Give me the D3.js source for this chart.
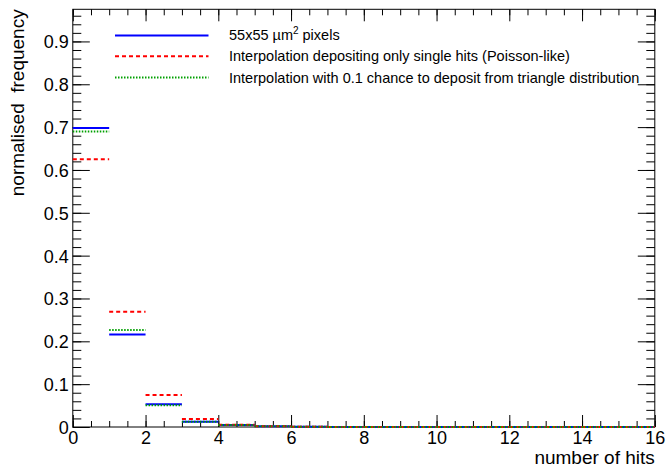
<!DOCTYPE html>
<html>
<head>
<meta charset="utf-8">
<script src="https://cdn.jsdelivr.net/npm/d3@7"></script>
<style>
  html, body { margin: 0; padding: 0; background: #fff; }
  svg { display: block; font-family: "Liberation Sans", Arial, Helvetica, sans-serif; }
</style>
</head>
<body>
<svg id="chart" width="666" height="468"></svg>
<script>
// Bin lower edges (number of hits, unit-width bins)
const hitBins = [0, 1, 2, 3, 4, 5, 6, 7, 8, 9, 10, 11, 12, 13, 14, 15];

// Normalised frequency per bin for each simulation
const pixels55 = [0.698, 0.216, 0.053, 0.0124, 0.0047, 0.0016, 0.0004, 0.0001, 0, 0, 0, 0, 0, 0, 0, 0];
const poissonLike = [0.625, 0.269, 0.0747, 0.0187, 0.0055, 0.0017, 0.0005, 0.0001, 0, 0, 0, 0, 0, 0, 0, 0];
const triangleDist = [0.690, 0.2264, 0.051, 0.0124, 0.0049, 0.0015, 0.0004, 0.0001, 0, 0, 0, 0, 0, 0, 0, 0];

const seriesNames = [
  "55x55 µm² pixels",
  "Interpolation depositing only single hits (Poisson-like)",
  "Interpolation with 0.1 chance to deposit from triangle distribution"
];

const xTickValues = [0, 2, 4, 6, 8, 10, 12, 14, 16];
const yTickValues = [0, 0.1, 0.2, 0.3, 0.4, 0.5, 0.6, 0.7, 0.8, 0.9];

const svg = d3.select("#chart");
const frameL = 72.8, frameR = 654.8, frameT = 9.3, frameB = 427;

const x = d3.scaleLinear().domain([0, 16]).range([frameL, frameR]);
const y = d3.scaleLinear().domain([0, 0.975]).range([frameB, frameT]);

const series = [
  { name: seriesNames[0], values: pixels55, color: "#0000ff", dash: null },
  { name: seriesNames[1], values: poissonLike, color: "#ff0000", dash: "4,3" },
  { name: seriesNames[2], values: triangleDist, color: "#00a000", dash: "1.5,1.5" }
];

// Frame
svg.append("rect")
  .attr("x", frameL).attr("y", frameT)
  .attr("width", frameR - frameL).attr("height", frameB - frameT)
  .attr("fill", "none").attr("stroke", "#000").attr("stroke-width", 1);

function styleAxis(g) {
  g.select(".domain").remove();
  g.selectAll(".tick line").attr("stroke", "#000");
}

const xMinor = d3.range(0, 16.01, 0.5);
const yMinor = d3.range(0, 0.97, 0.02);

// Bottom axis: inward ticks with labels
svg.append("g").attr("transform", `translate(0,${frameB})`)
  .call(d3.axisBottom(x).tickValues(xMinor).tickSize(-6).tickFormat(""))
  .call(styleAxis);
svg.append("g").attr("transform", `translate(0,${frameB})`)
  .call(d3.axisBottom(x).tickValues(xTickValues).tickSize(-12).tickPadding(0).tickFormat(d3.format("d")))
  .call(styleAxis)
  .call(g => g.selectAll("text").attr("font-size", 18).attr("fill", "#000")
    .attr("dy", null).attr("y", 17));

// Top axis: inward ticks only
svg.append("g").attr("transform", `translate(0,${frameT})`)
  .call(d3.axisTop(x).tickValues(xMinor).tickSize(-6).tickFormat(""))
  .call(styleAxis);
svg.append("g").attr("transform", `translate(0,${frameT})`)
  .call(d3.axisTop(x).tickValues(xTickValues).tickSize(-12).tickFormat(""))
  .call(styleAxis);

// Left axis
svg.append("g").attr("transform", `translate(${frameL},0)`)
  .call(d3.axisLeft(y).tickValues(yMinor).tickSize(-8.5).tickFormat(""))
  .call(styleAxis);
svg.append("g").attr("transform", `translate(${frameL},0)`)
  .call(d3.axisLeft(y).tickValues(yTickValues).tickSize(-17).tickPadding(0)
    .tickFormat(d => d === 0 ? "0" : d3.format(".1f")(d)))
  .call(styleAxis)
  .call(g => g.selectAll("text").attr("font-size", 18).attr("fill", "#000")
    .attr("x", -4).attr("dy", "0.36em"));

// Right axis: inward ticks only
svg.append("g").attr("transform", `translate(${frameR},0)`)
  .call(d3.axisRight(y).tickValues(yMinor).tickSize(-8.5).tickFormat(""))
  .call(styleAxis);
svg.append("g").attr("transform", `translate(${frameR},0)`)
  .call(d3.axisRight(y).tickValues(yTickValues).tickSize(-17).tickFormat(""))
  .call(styleAxis);

// Histograms as horizontal bin segments
series.forEach(s => {
  svg.append("g")
    .selectAll("line")
    .data(hitBins)
    .join("line")
    .attr("x1", d => x(d))
    .attr("x2", d => x(d + 1))
    .attr("y1", (d, i) => y(s.values[i]))
    .attr("y2", (d, i) => y(s.values[i]))
    .attr("stroke", s.color)
    .attr("stroke-width", 2)
    .attr("stroke-dasharray", s.dash);
});

// Axis titles
svg.append("text")
  .attr("x", frameR).attr("y", 464)
  .attr("text-anchor", "end")
  .attr("font-size", 19)
  .text("number of hits");

svg.append("text")
  .attr("transform", `translate(24,${frameT}) rotate(-90)`)
  .attr("text-anchor", "end")
  .attr("font-size", 19)
  .style("white-space", "pre")
  .text("normalised  frequency");

// Legend
const legendY = [35.4, 56.3, 77.5];
const legend = svg.append("g");
series.forEach((s, i) => {
  legend.append("line")
    .attr("x1", 115).attr("x2", 208.5)
    .attr("y1", legendY[i]).attr("y2", legendY[i])
    .attr("stroke", s.color).attr("stroke-width", 2)
    .attr("stroke-dasharray", s.dash);
  const t = legend.append("text")
    .attr("x", 229).attr("y", legendY[i] + 5)
    .attr("font-size", 14.5);
  if (i === 0) {
    t.append("tspan").text("55x55 µm");
    t.append("tspan").attr("font-size", 10).attr("dy", -6).text("2");
    t.append("tspan").attr("dy", 6).text(" pixels");
  } else {
    t.text(s.name);
  }
});
</script>
</body>
</html>
